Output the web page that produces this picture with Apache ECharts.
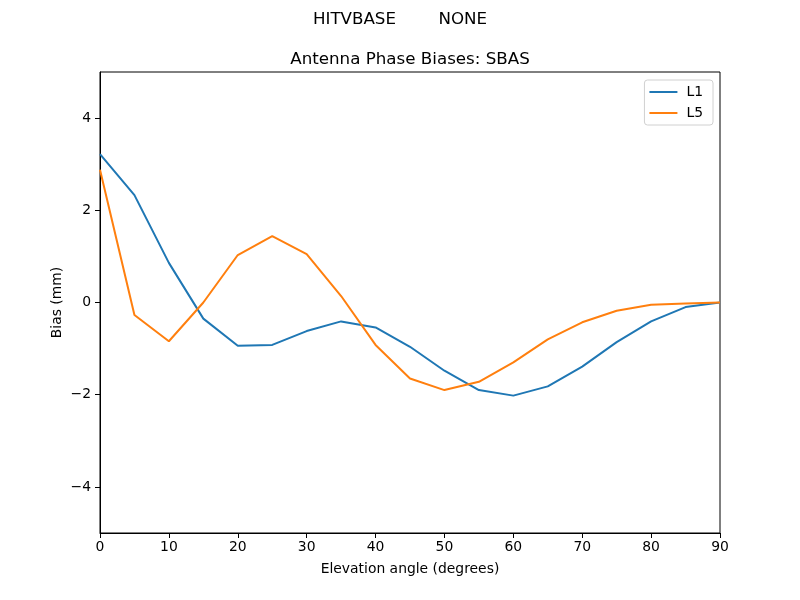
<!DOCTYPE html>
<html>
<head>
<meta charset="utf-8">
<script src="https://cdn.jsdelivr.net/npm/echarts@6/dist/echarts.min.js"></script>
<style>html,body{margin:0;padding:0;background:#fff}#c{width:800px;height:600px}</style>
</head>
<body>
<div id="c"></div>
<script>
var elevation = [0,5,10,15,20,25,30,35,40,45,50,55,60,65,70,75,80,85,90];
var l1 = [3.22,2.33,0.86,-0.35,-0.94,-0.92,-0.62,-0.41,-0.54,-0.96,-1.48,-1.90,-2.02,-1.82,-1.39,-0.86,-0.41,-0.10,0.0];
var l5 = [2.88,-0.27,-0.84,0.0,1.03,1.44,1.05,0.14,-0.92,-1.65,-1.90,-1.72,-1.30,-0.80,-0.43,-0.18,-0.05,-0.02,0.0];
var xTicks = [0,10,20,30,40,50,60,70,80,90];
var yTicks = [-4,-2,0,2,4];
var suptitle = 'HITVBASE        NONE';
var title = 'Antenna Phase Biases: SBAS';

function pairs(xs, ys){ return xs.map(function(x,i){ return [x, ys[i]]; }); }
function fmt(v){ return String(v).replace('-', '\u2212'); }
var font = 'DejaVu Sans';
var chart = echarts.init(document.getElementById('c'));
chart.setOption({
  animation: false,
  textStyle: {fontFamily: font},
  title: [
    {text: suptitle, left: 400, textAlign: 'center', top: 11, padding: 0, textStyle: {fontFamily: font, fontSize: 16.7, fontWeight: 'normal', color: '#000'}},
    {text: title, left: 410, textAlign: 'center', top: 51, padding: 0, textStyle: {fontFamily: font, fontSize: 16.7, fontWeight: 'normal', color: '#000'}}
  ],
  grid: {left: 100, right: 80, top: 72, bottom: 67, show: true, borderColor: '#000', borderWidth: 1, backgroundColor: 'transparent'},
  legend: {
    orient: 'vertical', right: 87, top: 80,
    data: ['L1','L5'],
    itemWidth: 28, itemHeight: 2, itemGap: 7,
    icon: 'rect',
    borderColor: '#d0d0d0', borderWidth: 1, borderRadius: 3,
    padding: [5, 10, 5, 5],
    backgroundColor: '#fff',
    textStyle: {fontFamily: font, fontSize: 13.9, color: '#000', padding: [0,0,0,4]}
  },
  xAxis: {
    type: 'value', min: 0, max: 90, interval: 10,
    name: 'Elevation angle (degrees)', nameLocation: 'middle', nameGap: 29,
    nameMoveOverlap: false,
    nameTextStyle: {fontFamily: font, fontSize: 13.9, color: '#000'},
    axisLine: {show: true, onZero: false, lineStyle: {color: '#000', width: 1}},
    axisTick: {show: true, length: 5, lineStyle: {color: '#000'}},
    axisLabel: {color: '#000', fontSize: 13.9, fontFamily: font, margin: 7, formatter: fmt},
    splitLine: {show: false}
  },
  yAxis: {
    type: 'value', min: -5, max: 5,
    name: 'Bias (mm)', nameLocation: 'middle', nameGap: 36,
    nameMoveOverlap: false,
    nameTextStyle: {fontFamily: font, fontSize: 13.9, color: '#000'},
    axisLine: {show: true, onZero: false, lineStyle: {color: '#000', width: 1}},
    axisTick: {show: true, length: 5, lineStyle: {color: '#000'}, customValues: yTicks},
    axisLabel: {color: '#000', fontSize: 13.9, fontFamily: font, margin: 9, formatter: fmt, customValues: yTicks},
    splitLine: {show: false}
  },
  series: [
    {name: 'L1', type: 'line', data: pairs(elevation, l1), showSymbol: false, symbol: 'none', lineStyle: {color: '#1f77b4', width: 2}, itemStyle: {color: '#1f77b4'}},
    {name: 'L5', type: 'line', data: pairs(elevation, l5), showSymbol: false, symbol: 'none', lineStyle: {color: '#ff7f0e', width: 2}, itemStyle: {color: '#ff7f0e'}}
  ]
});
</script>
</body>
</html>
